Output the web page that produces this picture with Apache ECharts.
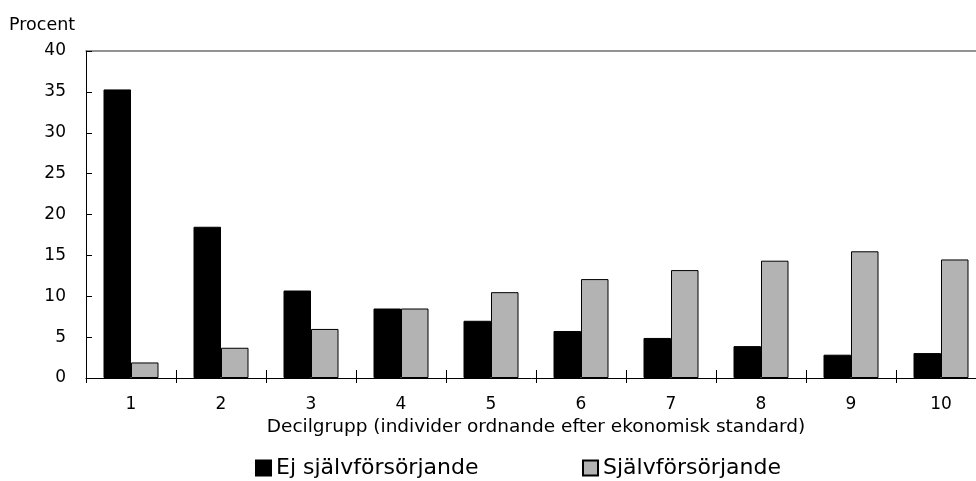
<!DOCTYPE html>
<html>
<head>
<meta charset="utf-8">
<script src="https://cdn.jsdelivr.net/npm/echarts@6/dist/echarts.min.js"></script>
<style>
html,body{margin:0;padding:0;background:#fff;}
#chart{width:976px;height:481px;}
</style>
</head>
<body>
<div id="chart"></div>
<script>
const categories = ['1','2','3','4','5','6','7','8','9','10'];
const ejSjalvforsorjande = [35.3, 18.5, 10.7, 8.5, 7.0, 5.75, 4.9, 3.9, 2.85, 3.05];
const sjalvforsorjande = [1.9, 3.7, 6.0, 8.5, 10.5, 12.1, 13.2, 14.35, 15.5, 14.5];
const yTicks = {min: 0, max: 40, interval: 5};
const seriesNames = ['Ej självförsörjande', 'Självförsörjande'];

const FONT = 'DejaVu Sans';
const FS = 17;

const chart = echarts.init(document.getElementById('chart'), null, {renderer: 'canvas'});
chart.setOption({
  animation: false,
  backgroundColor: '#fff',
  textStyle: {fontFamily: FONT, color: '#000'},
  title: {
    text: 'Procent', left: 4, top: 11,
    textStyle: {fontFamily: FONT, fontSize: 17.5, fontWeight: 'normal', color: '#000'}
  },
  legend: [
    {data: [seriesNames[0]], left: 250, top: 452, itemWidth: 15, itemHeight: 15, itemGap: 5,
     icon: 'rect', textStyle: {fontFamily: FONT, fontSize: 22, color: '#000'}},
    {data: [seriesNames[1]], left: 577, top: 452, itemWidth: 15, itemHeight: 15, itemGap: 5,
     icon: 'rect', textStyle: {fontFamily: FONT, fontSize: 22, color: '#000'}}
  ],
  grid: {left: 86, top: 51, right: -10, bottom: 103, containLabel: false, outerBoundsMode: 'none'},
  xAxis: [
    {
      type: 'category', data: categories, position: 'bottom',
      axisLine: {show: true, lineStyle: {color: '#000', width: 1}},
      axisTick: {show: true, inside: false, length: 5, alignWithLabel: false, lineStyle: {color: '#000'}},
      axisLabel: {fontFamily: FONT, fontSize: FS, color: '#000', margin: 18},
      name: 'Decilgrupp (individer ordnande efter ekonomisk standard)',
      nameLocation: 'middle', nameGap: 24,
      nameTextStyle: {fontFamily: FONT, fontSize: 18.5, color: '#000'},
      splitLine: {show: false}
    },
    {
      type: 'category', data: categories, position: 'bottom',
      axisLine: {show: false},
      axisTick: {show: true, inside: true, length: 8, lineStyle: {color: '#000'}},
      axisLabel: {show: false},
      splitLine: {show: false}
    },
    {
      type: 'category', data: categories, position: 'top',
      axisLine: {show: true, lineStyle: {color: '#707070', width: 1.5}},
      axisTick: {show: false},
      axisLabel: {show: false},
      splitLine: {show: false}
    }
  ],
  yAxis: {
    type: 'value', min: yTicks.min, max: yTicks.max, interval: yTicks.interval,
    axisLine: {show: true, lineStyle: {color: '#000', width: 1}},
    axisTick: {show: true, inside: true, length: 6, lineStyle: {color: '#000'}},
    axisLabel: {fontFamily: FONT, fontSize: FS, color: '#000', margin: 20},
    splitLine: {show: false}
  },
  series: [
    {
      name: seriesNames[0], type: 'bar', data: ejSjalvforsorjande,
      barWidth: 27.5, barGap: '0%',
      itemStyle: {color: '#000', borderColor: '#000', borderWidth: 1}
    },
    {
      name: seriesNames[1], type: 'bar', data: sjalvforsorjande,
      barWidth: 27.5, barGap: '0%',
      itemStyle: {color: '#b3b3b3', borderColor: '#000', borderWidth: 1}
    }
  ]
});
</script>
</body>
</html>
